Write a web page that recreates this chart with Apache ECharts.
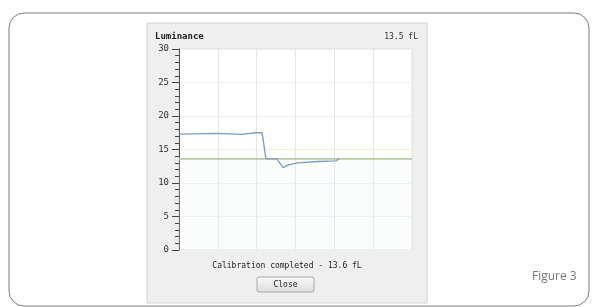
<!DOCTYPE html>
<html>
<head>
<meta charset="utf-8">
<script src="https://cdn.jsdelivr.net/npm/echarts@6/dist/echarts.min.js"></script>
<style>
  html, body { margin: 0; padding: 0; background: #fff; }
  #main { width: 593px; height: 307px; }
</style>
</head>
<body>
<div id="main"></div>
<script>
// measured luminance trace (x = time steps, y = fL)
var measX = [0, 10, 16, 20, 21.4, 22.4, 25.2, 26.8, 28.2, 30.6, 35.8, 40.4, 41.2];
var measY = [17.3, 17.4, 17.25, 17.5, 17.5, 13.6, 13.6, 12.3, 12.7, 13.0, 13.2, 13.3, 13.6];
// target level
var targetX = [0, 60];
var targetY = [13.6, 13.6];
// faint tolerance line
var tolX = [22.4, 60];
var tolY = [15, 15];
var yTicks = [0, 5, 10, 15, 20, 25, 30];

function pairs(xs, ys) {
  return xs.map(function (x, i) { return [x, ys[i]]; });
}

var chart = echarts.init(document.getElementById('main'));
var mono = '"DejaVu Sans Mono", monospace';

chart.setOption({
  animation: false,
  backgroundColor: '#ffffff',
  graphic: [
    { type: 'rect', z: -10, shape: { x: 9, y: 13, width: 580, height: 293, r: 15 },
      style: { fill: 'none', stroke: '#7a7a7a', lineWidth: 1 } },
    { type: 'rect', z: -9, shape: { x: 147, y: 23, width: 280, height: 280 },
      style: { fill: '#efefef', stroke: '#d2d2d2', lineWidth: 1 } },
    { type: 'text', style: { x: 155, y: 37, text: 'Luminance', font: 'bold 9px ' + mono,
      fill: '#222', verticalAlign: 'middle' } },
    { type: 'text', style: { x: 418, y: 37, text: '13.5 fL', font: '8px ' + mono,
      fill: '#333', align: 'right', verticalAlign: 'middle' } },
    { type: 'text', style: { x: 287, y: 266, text: 'Calibration completed - 13.6 fL',
      font: '8px ' + mono, fill: '#222', align: 'center', verticalAlign: 'middle' } },
    { type: 'rect', shape: { x: 257, y: 277, width: 57, height: 15, r: 2 },
      style: { stroke: '#a8a8a8', lineWidth: 1,
        fill: new echarts.graphic.LinearGradient(0, 0, 0, 1, [
          { offset: 0, color: '#fafafa' }, { offset: 1, color: '#dcdcdc' }]) } },
    { type: 'text', style: { x: 285.5, y: 285, text: 'Close', font: '8px ' + mono,
      fill: '#222', align: 'center', verticalAlign: 'middle' } },
    { type: 'text', style: { x: 532, y: 277, text: 'Figure 3', font: '12px "Open Sans"',
      fill: '#777', verticalAlign: 'middle' } }
  ],
  grid: {
    left: 179, top: 49, width: 233, height: 201,
    show: true, backgroundColor: '#ffffff', borderColor: '#dcdcdc', borderWidth: 1
  },
  xAxis: {
    type: 'value', min: 0, max: 60, interval: 10,
    axisLine: { show: false }, axisTick: { show: false }, axisLabel: { show: false },
    splitLine: { show: true, lineStyle: { color: '#e4e8e4', width: 1 } }
  },
  yAxis: {
    type: 'value', min: 0, max: 30, interval: 5,
    axisLine: { show: true, onZero: false, lineStyle: { color: '#555', width: 1 } },
    axisTick: { show: true, inside: false, length: 7, lineStyle: { color: '#444' } },
    minorTick: { show: true, splitNumber: 5, length: 4, lineStyle: { color: '#444' } },
    axisLabel: {
      margin: 10, fontFamily: mono, fontSize: 9, color: '#333',
      formatter: function (v) { return yTicks.indexOf(v) >= 0 ? String(v) : ''; }
    },
    splitLine: { show: true, lineStyle: { color: '#edf0ed', width: 1 } }
  },
  series: [
    {
      type: 'line', data: pairs(tolX, tolY), symbol: 'none', silent: true,
      lineStyle: { color: '#f2efcf', width: 1 }
    },
    {
      type: 'line', data: pairs(targetX, targetY), symbol: 'none', silent: true,
      lineStyle: { color: '#b9cc9c', width: 1.6 },
      areaStyle: { color: 'rgba(225,244,240,0.25)' }
    },
    {
      type: 'line', data: pairs(measX, measY), symbol: 'none', silent: true,
      lineStyle: { color: '#7c9dc0', width: 1.4 }
    }
  ]
});
</script>
</body>
</html>
